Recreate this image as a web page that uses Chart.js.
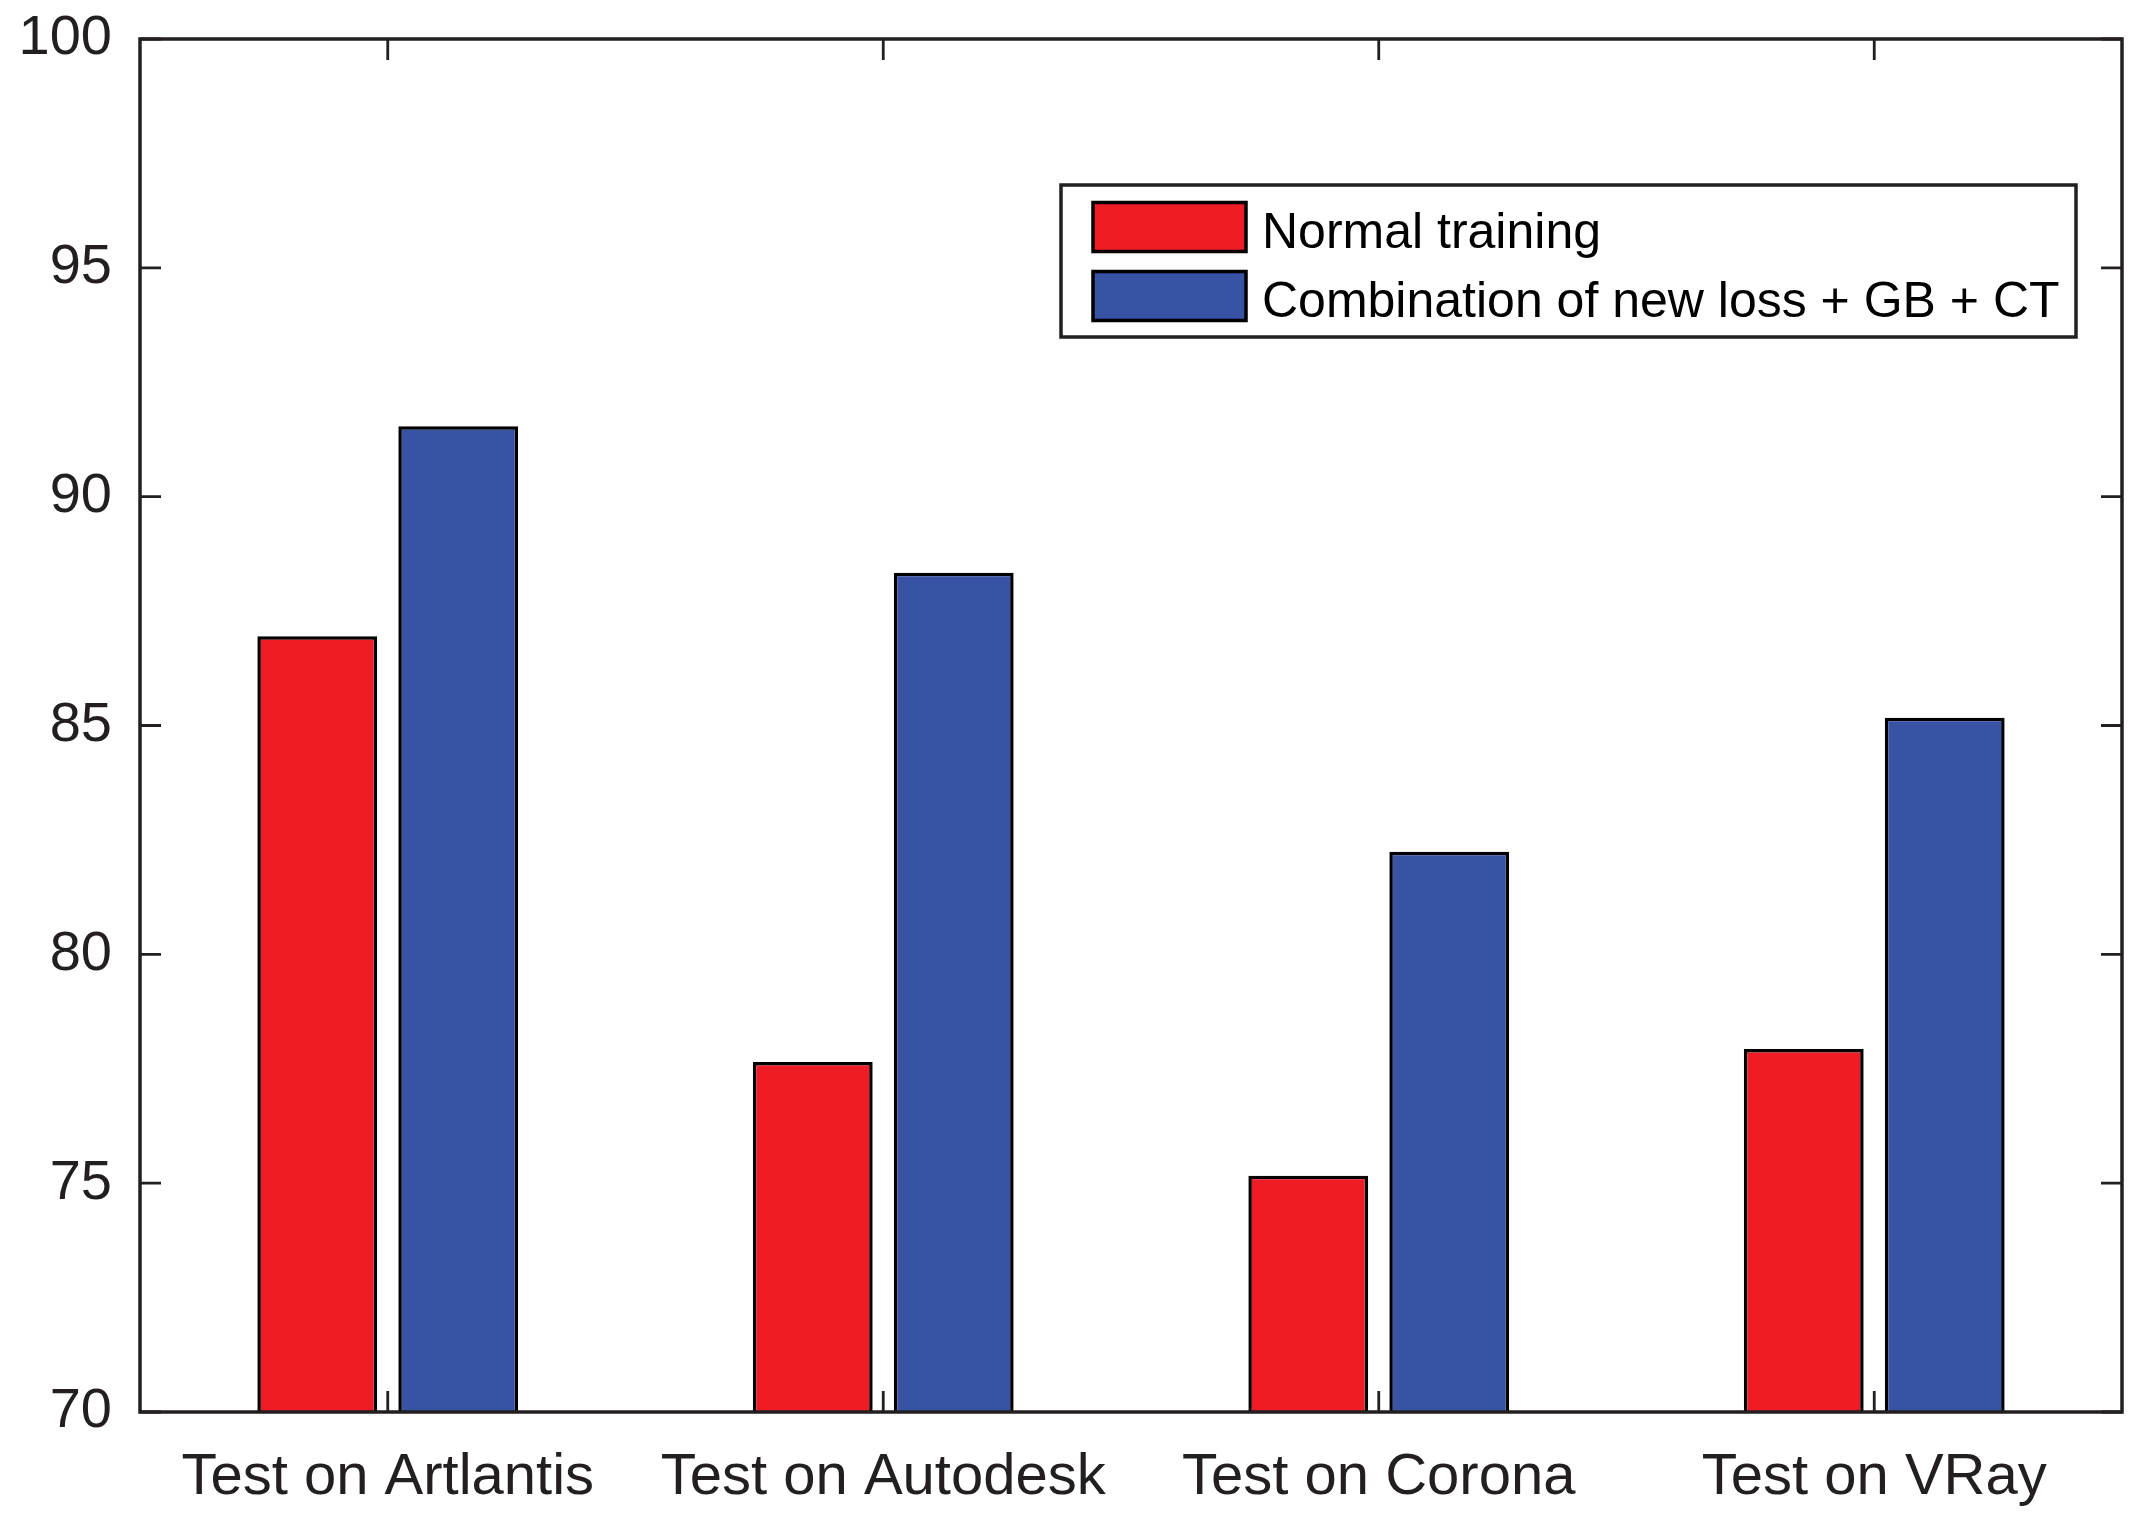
<!DOCTYPE html>
<html>
<head>
<meta charset="utf-8">
<script src="https://cdn.jsdelivr.net/npm/chart.js@4.4.1/dist/chart.umd.min.js"></script>
<style>
    html, body { margin: 0; padding: 0; background: #fff; }
    #wrap { width: 2146px; height: 1528px; }
</style>
</head>
<body>
<div id="wrap"><canvas id="accChart" width="2146" height="1528"></canvas></div>
<script>
"use strict";

// Data
const categories = ["Test on Artlantis", "Test on Autodesk", "Test on Corona", "Test on VRay"];
const seriesNames = ["Normal training", "Combination of new loss + GB + CT"];
const normalTraining = [86.95, 77.65, 75.16, 77.93];
const combinedMethod = [91.54, 88.34, 82.24, 85.17];
const yTicks = [70, 75, 80, 85, 90, 95, 100];

const ink = "#231f20";
const fontFamily = "'Liberation Sans', Arial, Helvetica, sans-serif";

// Box round the plot + inward tick marks (MATLAB style)
const frameTicks = {
    id: "frameTicks",
    afterDatasetsDraw(chart) {
        const { ctx, chartArea: a, scales } = chart;
        const len = 21;
        ctx.save();
        ctx.strokeStyle = ink;
        ctx.lineWidth = 3.5;
        ctx.strokeRect(a.left, a.top, a.right - a.left, a.bottom - a.top);
        ctx.lineWidth = 2.8;
        ctx.beginPath();
        scales.y.ticks.forEach((t, i) => {
            const py = scales.y.getPixelForTick(i);
            ctx.moveTo(a.left, py); ctx.lineTo(a.left + len, py);
            ctx.moveTo(a.right, py); ctx.lineTo(a.right - len, py);
        });
        scales.x.ticks.forEach((t, i) => {
            const px = scales.x.getPixelForTick(i);
            ctx.moveTo(px, a.bottom); ctx.lineTo(px, a.bottom - len);
            ctx.moveTo(px, a.top); ctx.lineTo(px, a.top + len);
        });
        ctx.stroke();
        ctx.restore();
    }
};

// Legend box inside the plot, top right
const boxLegend = {
    id: "boxLegend",
    afterDraw(chart) {
        const { ctx } = chart;
        const box = { x: 1061, y: 185, w: 1015, h: 152 };
        const sw = { x: 1093, w: 153, h: 49 };
        const rows = [227, 296];
        ctx.save();
        ctx.fillStyle = "#fff";
        ctx.fillRect(box.x, box.y, box.w, box.h);
        ctx.strokeStyle = ink;
        ctx.lineWidth = 3.5;
        ctx.strokeRect(box.x, box.y, box.w, box.h);
        ctx.font = "50px " + fontFamily;
        ctx.textBaseline = "middle";
        chart.data.datasets.forEach((ds, i) => {
            const cy = rows[i];
            ctx.fillStyle = ds.backgroundColor;
            ctx.fillRect(sw.x, cy - sw.h / 2, sw.w, sw.h);
            ctx.strokeStyle = "#000";
            ctx.lineWidth = 3.5;
            ctx.strokeRect(sw.x, cy - sw.h / 2, sw.w, sw.h);
            ctx.fillStyle = "#000";
            ctx.fillText(ds.label, 1262, cy + 7);
        });
        ctx.restore();
    }
};

const ctx = document.getElementById("accChart");

new Chart(ctx, {
    type: "bar",
    data: {
        labels: categories,
        datasets: [
            {
                label: seriesNames[0],
                data: normalTraining,
                backgroundColor: "#ee1c25",
                borderColor: "#000",
                borderWidth: 3.5,
                categoryPercentage: 0.569,
                barPercentage: 0.85
            },
            {
                label: seriesNames[1],
                data: combinedMethod,
                backgroundColor: "#3953a4",
                borderColor: "#000",
                borderWidth: 3.5,
                categoryPercentage: 0.569,
                barPercentage: 0.85
            }
        ]
    },
    options: {
        responsive: false,
        devicePixelRatio: 1,
        animation: false,
        layout: { padding: { left: 0, right: 24, top: 39, bottom: 0 } },
        plugins: {
            legend: { display: false },
            tooltip: { enabled: false }
        },
        scales: {
            x: {
                grid: { display: false, drawTicks: false },
                border: { display: false },
                ticks: {
                    color: ink,
                    font: { family: fontFamily, size: 58 },
                    padding: 31,
                    maxRotation: 0,
                    autoSkip: false
                },
                afterFit(scale) { scale.height = 116; }
            },
            y: {
                min: 70,
                max: 100,
                afterBuildTicks(scale) {
                    scale.ticks = yTicks.map(v => ({ value: v }));
                },
                grid: { display: false, drawTicks: false },
                border: { display: false },
                ticks: {
                    color: ink,
                    font: { family: fontFamily, size: 56 },
                    padding: 28
                },
                afterFit(scale) {
                    scale.width = 140;
                    // keep the label half-height out of the top margin
                    scale.paddingTop = 0;
                    scale.paddingBottom = 0;
                }
            }
        }
    },
    plugins: [frameTicks, boxLegend]
});
</script>
</body>
</html>
